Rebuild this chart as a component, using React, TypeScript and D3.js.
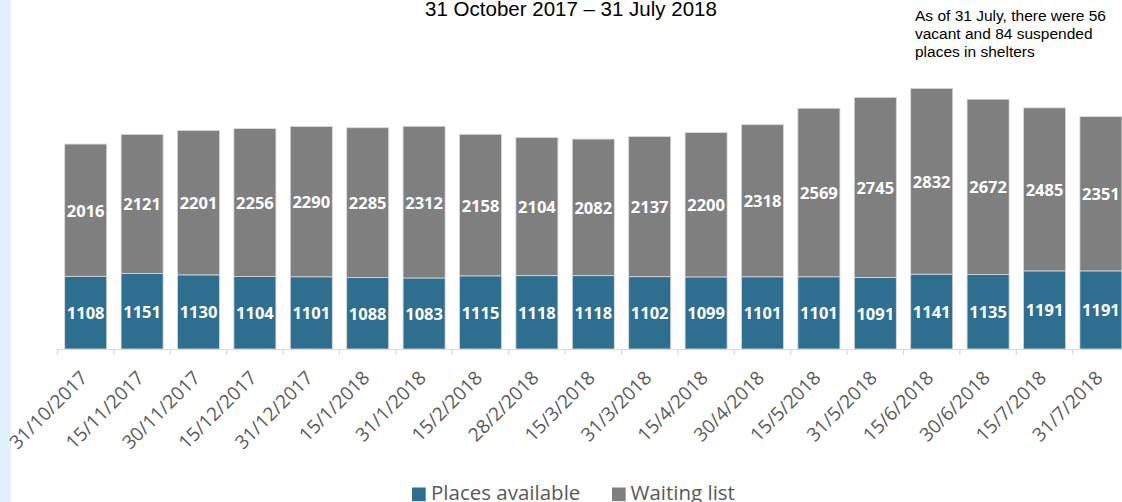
import React from "react";
import * as d3 from "d3";

const categories = [
  "31/10/2017", "15/11/2017", "30/11/2017", "15/12/2017", "31/12/2017",
  "15/1/2018", "31/1/2018", "15/2/2018", "28/2/2018", "15/3/2018",
  "31/3/2018", "15/4/2018", "30/4/2018", "15/5/2018", "31/5/2018",
  "15/6/2018", "30/6/2018", "15/7/2018", "31/7/2018",
];
const placesAvailable = [1108, 1151, 1130, 1104, 1101, 1088, 1083, 1115, 1118, 1118, 1102, 1099, 1101, 1101, 1091, 1141, 1135, 1191, 1191];
const waitingList = [2016, 2121, 2201, 2256, 2290, 2285, 2312, 2158, 2104, 2082, 2137, 2200, 2318, 2569, 2745, 2832, 2672, 2485, 2351];
const seriesNames = ["Places available", "Waiting list"];
const titleText = "31 October 2017 – 31 July 2018";
const noteLines = ["As of 31 July, there were 56", "vacant and 84 suspended", "places in shelters"];

const W = 1122;
const H = 502;
const BLUE = "#2E6F8F";
const GREY = "#7F7F7F";
const baseY = 349;

export default function App() {
  const x = d3
    .scaleBand<string>()
    .domain(categories)
    .range([57.5, 57.5 + 19 * 56.4])
    .paddingInner(0.255)
    .paddingOuter(0.1275);
  const y = d3.scaleLinear().domain([0, 5000]).range([baseY, baseY - 328]);

  const rows = categories.map((c, i) => ({
    c,
    a: placesAvailable[i],
    w: waitingList[i],
  }));
  const stack = d3.stack<any>().keys(["a", "w"])(rows as any);
  const colors = [BLUE, GREY];
  const step = x.step();
  const boundaries = d3.range(categories.length + 1).map((i) => 57.5 + i * step);

  return (
    <div style={{ position: "fixed", left: 0, top: 0 }}>
      <svg width={W} height={H} style={{ display: "block" }}>
        <rect x={0} y={0} width={W} height={H} fill="#fff" />
        <rect x={0} y={0} width={11} height={H} fill="#E1F0FB" />
        <text
          x={571}
          y={16}
          textAnchor="middle"
          fontFamily="'Liberation Sans', Arial, sans-serif"
          fontSize={20.5}
          fill="#000"
        >
          {titleText}
        </text>
        {noteLines.map((l, i) => (
          <text
            key={i}
            x={915}
            y={21 + i * 18}
            fontFamily="'Liberation Sans', Arial, sans-serif"
            fontSize={15.5}
            fill="#000"
          >
            {l}
          </text>
        ))}
        {stack.map((layer, li) => (
          <g key={li}>
            {layer.map((d: any, i: number) => {
              const x0 = x(categories[i])!;
              const y0 = y(d[1]);
              const y1 = y(d[0]);
              const v = d[1] - d[0];
              return (
                <g key={i}>
                  <rect
                    x={x0}
                    y={y0}
                    width={x.bandwidth()}
                    height={y1 - y0}
                    fill={colors[li]}
                    stroke="#D9D9D9"
                    strokeWidth={0.8}
                  />
                  <text
                    x={x0 + x.bandwidth() / 2}
                    y={(y0 + y1) / 2}
                    textAnchor="middle"
                    dominantBaseline="central"
                    fontFamily="'Open Sans', sans-serif"
                    fontWeight="bold"
                    fontSize={16.5}
                    fill="#fff"
                  >
                    {v}
                  </text>
                </g>
              );
            })}
          </g>
        ))}
        <line x1={57.5} x2={W} y1={baseY + 0.5} y2={baseY + 0.5} stroke="#D9D9D9" strokeWidth={1.2} />
        {boundaries.map((bx, i) => (
          <line key={i} x1={bx} x2={bx} y1={baseY} y2={baseY + 6} stroke="#D9D9D9" strokeWidth={1.2} />
        ))}
        {categories.map((c) => {
          const cx = x(c)! + x.bandwidth() / 2 + 3;
          const cy = 379;
          return (
            <text
              key={c}
              x={cx}
              y={cy}
              textAnchor="end"
              transform={`rotate(-45 ${cx} ${cy})`}
              fontFamily="'Open Sans', sans-serif"
              fontSize={19}
              fill="#595959"
            >
              {c}
            </text>
          );
        })}
        <g fontFamily="'Open Sans', sans-serif" fontSize={20.5} fill="#595959">
          <rect x={412} y={487.5} width={13.7} height={13.7} fill={BLUE} />
          <text x={431} y={500}>{seriesNames[0]}</text>
          <rect x={612} y={487.5} width={13.7} height={13.7} fill={GREY} />
          <text x={630.5} y={500}>{seriesNames[1]}</text>
        </g>
      </svg>
    </div>
  );
}
